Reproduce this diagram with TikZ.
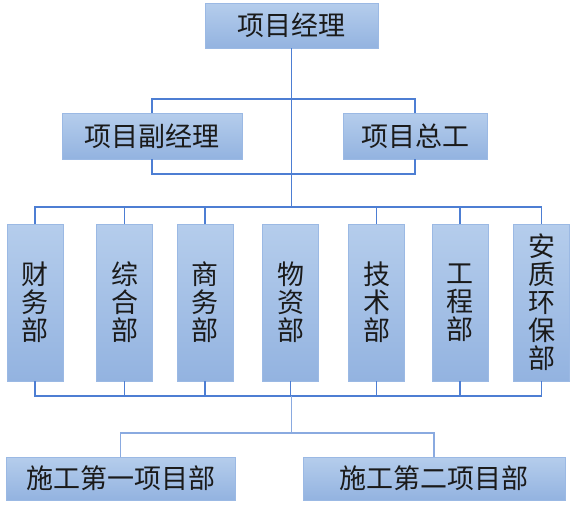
\documentclass[tikz,border=0pt]{standalone}
\usepackage{fontspec}
\setmainfont{Noto Sans CJK SC}
\usetikzlibrary{calc}
\definecolor{boxtop}{HTML}{B5CDEC}
\definecolor{boxbot}{HTML}{93B3E0}
\definecolor{boxline}{HTML}{9BB9E4}
\definecolor{conn}{HTML}{4D7ED3}
\definecolor{connlight}{HTML}{8AAAE0}
\definecolor{txt}{HTML}{1A1A1A}
\tikzset{
  orgbox/.style={draw=boxline, line width=0.8pt, top color=boxtop, bottom color=boxbot,
    inner sep=0pt, outer sep=0pt, text=txt, font=\fontsize{27}{28}\selectfont, align=center},
  conline/.style={draw=conn, line width=1.3pt},
  conlight/.style={draw=connlight, line width=1.3pt}
}
\begin{document}
\begin{tikzpicture}[x=1pt,y=-1pt]
\useasboundingbox (0,0) rectangle (570,512);
% top
\node[orgbox, minimum width=173pt, minimum height=45pt] (pm) at (291.5,25.5) {项目经理};
\node[orgbox, minimum width=180pt, minimum height=46pt] (vpm) at (152,136) {项目副经理};
\node[orgbox, minimum width=144pt, minimum height=46pt] (ce) at (415,136) {项目总工};
% departments
\foreach \n/\x/\t in {d1/35/{财\\务\\部}, d2/124.5/{综\\合\\部}, d3/205/{商\\务\\部}, d4/290.5/{物\\资\\部}, d5/376.5/{技\\术\\部}, d6/460/{工\\程\\部}, d7/541.5/{安\\质\\环\\保\\部}}
  \node[orgbox, minimum width=56pt, minimum height=157pt] (\n) at (\x,302.5) {\t};
% projects
\node[orgbox, minimum width=229pt, minimum height=43pt] (p1) at (120.5,478.5) {施工第一项目部};
\node[orgbox, minimum width=262pt, minimum height=43pt] (p2) at (434,478.5) {施工第二项目部};
% coordinates
\coordinate (tb) at (291.5,99);
\coordinate (bb) at (291.5,174);
\coordinate (dt) at (291.5,207);
\coordinate (db) at (291.5,396);
\coordinate (pj) at (291.5,433);
% bracket around vpm / ce
\draw[conline] (vpm.north) -- (vpm.north |- tb) -- (ce.north |- tb) -- (ce.north);
\draw[conline] (vpm.south) -- (vpm.south |- bb) -- (ce.south |- bb) -- (ce.south);
% trunk
\draw[conline] (pm.south) -- (dt);
% department top bracket
\draw[conline] (d1.north) -- (d1.north |- dt) -- (d7.north |- dt) -- (d7.north);
\foreach \n in {d2,d3,d5,d6}
  \draw[conline] (\n.north) -- (\n.north |- dt);
% department bottom bracket
\draw[conline] (d1.south) -- (d1.south |- db) -- (d7.south |- db) -- (d7.south);
\foreach \n in {d2,d3,d4,d5,d6}
  \draw[conline] (\n.south) -- (\n.south |- db);
% projects
\draw[conlight] (db) -- (pj);
\draw[conlight] (p1.north) -- (p1.north |- pj) -- (p2.north |- pj) -- (p2.north);
\end{tikzpicture}
\end{document}
